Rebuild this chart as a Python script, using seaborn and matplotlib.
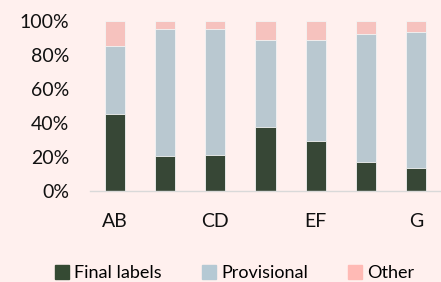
import pandas as pd
import seaborn as sns
import matplotlib.pyplot as plt
from matplotlib.patches import Patch

# values (share of each bar, %)
groups = ['AB', 'b2', 'CD', 'b4', 'EF', 'b6', 'G']
tick_labels = ['AB', '', 'CD', '', 'EF', '', 'G']
final = [45.3, 20.8, 21.0, 37.8, 29.2, 17.3, 13.7]
provisional = [40.2, 74.5, 74.3, 51.2, 59.8, 75.2, 79.8]
other = [100 - f - p for f, p in zip(final, provisional)]

bg = '#FFF0EE'
c_final = '#354A33'
c_prov = '#B5C9D4'
c_other = '#FFBAB5'

df = pd.DataFrame({'group': groups, 'final': final,
                   'provisional': provisional, 'other': other})
df['lvl2'] = df['final'] + df['provisional']
df['lvl3'] = df['lvl2'] + df['other']

plt.rcParams['font.family'] = ['Lato', 'DejaVu Sans']
fig = plt.figure(figsize=(4.41, 2.82), dpi=100, facecolor=bg)
ax = fig.add_axes([0.204, 0.3227, 0.796, 0.6028])
ax.set_facecolor(bg)

# stacked bars drawn as cumulative totals, tallest first
for col, color in [('lvl3', c_other), ('lvl2', c_prov), ('final', c_final)]:
    sns.barplot(data=df, x='group', y=col, color=color, width=0.4,
                edgecolor='#F4F4F4', linewidth=0.6, ax=ax)

ax.set_xlim(-0.5, 6.5)
ax.set_ylim(0, 100)
ax.set_yticks(range(0, 101, 20))
ax.set_yticklabels([f'{v}%' for v in range(0, 101, 20)])
ax.set_xticks(range(len(groups)))
ax.set_xticklabels(tick_labels)
ax.set_xlabel('')
ax.set_ylabel('')
ax.tick_params(axis='both', length=0, labelsize=14, colors='#111111')
ax.tick_params(axis='x', pad=16)
ax.tick_params(axis='y', pad=15)
for s in ['top', 'right', 'left']:
    ax.spines[s].set_visible(False)
ax.spines['bottom'].set_color('#D9D9D9')
ax.spines['bottom'].set_linewidth(1)

handles = [Patch(color=c_final, label='Final labels'),
           Patch(color=c_prov, label='Provisional'),
           Patch(color=c_other, label='Other')]
fig.legend(handles=handles, loc='center', bbox_to_anchor=(0.532, 0.032),
           ncol=3, frameon=False, fontsize=13, handlelength=0.78,
           handleheight=0.78, handletextpad=0.3, columnspacing=2.2)

fig.savefig('out.png', dpi=100, facecolor=bg)
